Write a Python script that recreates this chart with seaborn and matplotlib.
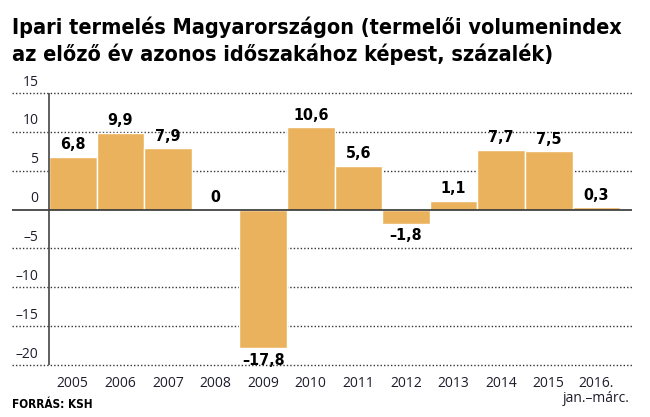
import matplotlib
matplotlib.use('Agg')
import matplotlib.pyplot as plt
import seaborn as sns
import pandas as pd

# data
years = ['2005', '2006', '2007', '2008', '2009', '2010', '2011',
         '2012', '2013', '2014', '2015', '2016.\njan.–márc.']
values = [6.8, 9.9, 7.9, 0, -17.8, 10.6, 5.6, -1.8, 1.1, 7.7, 7.5, 0.3]
y_ticks = [15, 10, 5, 0, -5, -10, -15, -20]

title = ('Ipari termelés Magyarországon (termelői volumenindex\n'
         'az előző év azonos időszakához képest, százalék)')
source = 'FORRÁS: KSH'

bar_color = '#EBB25E'
text_color = '#1d1d2b'
narrow = ['DejaVu Sans']


def fmt(v):
    if v == 0:
        return '0'
    return f'{v:.1f}'.replace('.', ',').replace('-', '–')


df = pd.DataFrame({'year': years, 'value': values})

sns.set_style('white')
plt.rcParams['font.family'] = ['Open Sans', 'DejaVu Sans']

fig = plt.figure(figsize=(6.5, 4.17), dpi=100)
ax = fig.add_axes([12 / 650, 1 - 365 / 417, 620 / 650, 272 / 417])

sns.barplot(
    data=df, x='year', y='value', order=years,
    color=bar_color, saturation=1, width=1,
    edgecolor='white', linewidth=1, ax=ax, zorder=2
)

ax.set_xlim(-1.277, 11.75)
ax.set_ylim(-20, 15)
for s in ax.spines.values():
    s.set_visible(False)

# grid lines
for t in y_ticks:
    if t == 0:
        continue
    ax.axhline(t, color='#333333', linestyle=(0, (1, 1.5)), linewidth=1,
               zorder=1, clip_on=False)
ax.axhline(0, color='#333333', linewidth=1.2, zorder=3)
ax.plot([-0.5, -0.5], [-20, 15], color='#444444', linewidth=1.2, zorder=3)

# y labels sitting above the grid lines
for t in y_ticks:
    ax.text(-0.72, t + 1.4, str(t).replace('-', '–'), ha='right', va='center',
            fontsize=10, color=text_color)
ax.set_yticks([])
ax.set_ylabel('')
ax.set_xlabel('')

ax.set_xticks(range(len(years)))
ax.set_xticklabels(years, fontsize=10, color=text_color, linespacing=1.0)
ax.tick_params(axis='x', length=0, pad=8)

# value labels
for i, v in enumerate(values):
    if v >= 0:
        ax.text(i, v + 0.6, fmt(v), ha='center', va='bottom', fontsize=11.5,
                weight='bold', family=narrow, stretch='condensed', color='black')
    else:
        ax.text(i, v - 0.6, fmt(v), ha='center', va='top', fontsize=11.5,
                weight='bold', family=narrow, stretch='condensed', color='black')

fig.text(12 / 650, 1 - 17 / 417, title, ha='left', va='top', fontsize=15.5,
         weight='bold', family=narrow, stretch='condensed', color='black',
         linespacing=1.3)
fig.text(12 / 650, 1 - 405 / 417, source, ha='left', va='center', fontsize=8.5,
         weight='bold', family=narrow, stretch='condensed', color='black')

fig.savefig('out.png', dpi=100)
